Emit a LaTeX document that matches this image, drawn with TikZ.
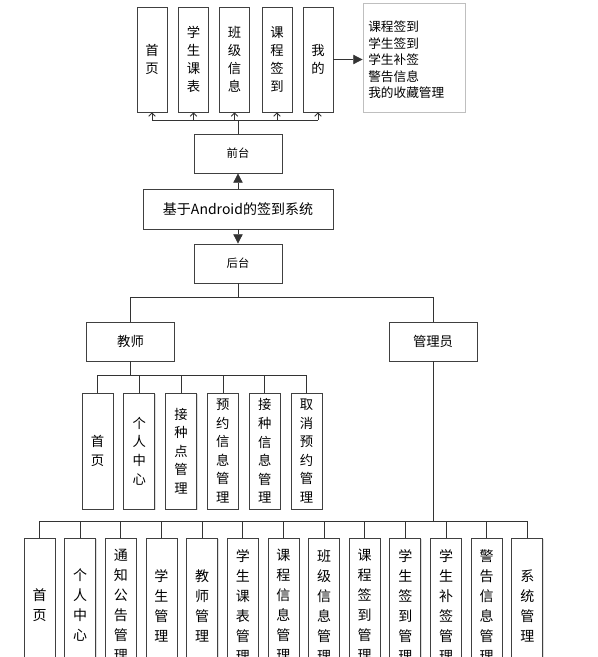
\documentclass[tikz,border=0pt]{standalone}
\usepackage{fontspec}
\setmainfont{Noto Sans CJK SC}
\usetikzlibrary{arrows.meta,shadows}

\tikzset{
  box/.style={draw=black!75, line width=0.6pt, fill=white, inner sep=0pt,
    drop shadow={shadow xshift=0.7pt, shadow yshift=-0.7pt, fill=black!25}},
  hbox/.style={box, minimum width=66pt, minimum height=29.25pt},
  topbox/.style={box, minimum width=22.5pt, minimum height=78.75pt, align=center,
    font=\fontsize{10}{13.5}\selectfont},
  tchbox/.style={box, minimum width=23.25pt, minimum height=87pt, align=center,
    font=\fontsize{10}{13.9}\selectfont},
  admbox/.style={box, minimum width=23.25pt, minimum height=101.25pt, align=center,
    font=\fontsize{10.5}{15}\selectfont},
  link/.style={draw=black!80, line width=0.6pt},
  up/.style={link, -{Straight Barb[length=2.5pt,width=5pt]}},
  big/.style={link, -{Triangle[length=7pt,width=7pt]}}
}

\begin{document}
\begin{tikzpicture}[x=0.75pt,y=-0.75pt]
\clip (0,0) rectangle (597,657);
\fill[white] (0,0) rectangle (597,657);

% front end
\node[topbox] (t1) at (152,59.5) {首\\页};
\node[topbox] (t2) at (193.5,59.5) {学\\生\\课\\表};
\node[topbox] (t3) at (234.5,59.5) {班\\级\\信\\息};
\node[topbox] (t4) at (277,59.5) {课\\程\\签\\到};
\node[topbox] (t5) at (318,59.5) {我\\的};
\node[draw=black!25, line width=0.6pt, fill=white, minimum width=76.5pt, minimum height=81.75pt,
  drop shadow={shadow xshift=0.7pt, shadow yshift=-0.7pt, fill=black!15}] (fav) at (414,57.5) {};
\node[anchor=west, align=left, inner sep=0pt, font=\fontsize{9.5}{12.4}\selectfont] (favtxt) at (368,60)
  {课程签到\\学生签到\\学生补签\\警告信息\\我的收藏管理};
\draw[big] (t5.east) -- (t5.east -| fav.west);

\node[hbox, font=\fontsize{8.5}{10}\selectfont] (qt) at (238,153.5) {前台};
\node[box, minimum width=142.5pt, minimum height=30pt, font=\fontsize{10.5}{12}\selectfont] (sys) at (238,209) {基于Android的签到系统};
\node[hbox, font=\fontsize{8.5}{10}\selectfont] (ht) at (238,263.5) {后台};

\coordinate (jtop) at (238,120);
\draw[link] (qt.north) -- (jtop);
\draw[link] (t1.south |- jtop) -- (t5.south |- jtop);
\foreach \i in {1,...,5}
  \draw[up] (t\i.south |- jtop) -- (t\i.south);
\draw[big] (sys.north) -- (qt.south);
\draw[big] (sys.south) -- (ht.north);

% back end
\node[hbox, font=\fontsize{10}{12}\selectfont] (js) at (130.5,341.5) {教师};
\node[hbox, font=\fontsize{10}{12}\selectfont] (gl) at (433,341.5) {管理员};
\coordinate (jmid) at (238,297);
\draw[link] (ht.south) -- (jmid);
\draw[link] (js.north) -- (js.north |- jmid) -- (gl.north |- jmid) -- (gl.north);

% teacher
\node[tchbox] (c1) at (97.5,451) {首\\页};
\node[tchbox] (c2) at (139.3,451) {个\\人\\中\\心};
\node[tchbox] (c3) at (181.1,451) {接\\种\\点\\管\\理};
\node[tchbox] (c4) at (222.9,451) {预\\约\\信\\息\\管\\理};
\node[tchbox] (c5) at (264.7,451) {接\\种\\信\\息\\管\\理};
\node[tchbox] (c6) at (306.5,451) {取\\消\\预\\约\\管\\理};
\coordinate (jt) at (130.5,375);
\draw[link] (js.south) -- (jt);
\draw[link] (c1.north |- jt) -- (c6.north |- jt);
\foreach \i in {1,...,6}
  \draw[link] (c\i.north |- jt) -- (c\i.north);

% admin
\foreach \txt [count=\i] in {首\\页, 个\\人\\中\\心, 通\\知\\公\\告\\管\\理, 学\\生\\管\\理,
    教\\师\\管\\理, 学\\生\\课\\表\\管\\理, 课\\程\\信\\息\\管\\理, 班\\级\\信\\息\\管\\理,
    课\\程\\签\\到\\管\\理, 学\\生\\签\\到\\管\\理, 学\\生\\补\\签\\管\\理, 警\\告\\信\\息\\管\\理,
    系\\统\\管\\理}
  \node[admbox] (a\i) at ({39.5+40.65*(\i-1)},605.5) {\txt};
\coordinate (ja) at (433,521);
\draw[link] (gl.south) -- (ja);
\draw[link] (a1.north |- ja) -- (a13.north |- ja);
\foreach \i in {1,...,13}
  \draw[link] (a\i.north |- ja) -- (a\i.north);
\end{tikzpicture}
\end{document}
